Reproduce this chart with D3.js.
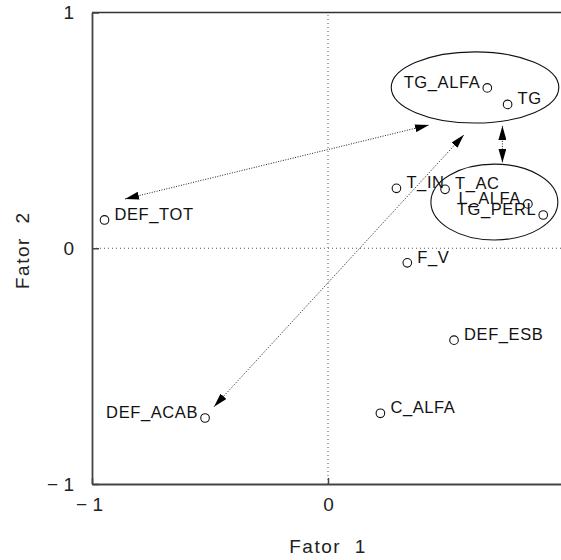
<!DOCTYPE html>
<html>
<head>
<meta charset="utf-8">
<script src="https://cdn.jsdelivr.net/npm/d3@7"></script>
<style>
  html, body { margin: 0; padding: 0; background: #fff; }
  svg { display: block; font-family: "Liberation Sans", Arial, sans-serif; }
</style>
</head>
<body>
<svg id="chart" width="561" height="560"></svg>
<script>
// Variable loadings on the first two factors
const labels = ["DEF_TOT", "DEF_ACAB", "C_ALFA", "DEF_ESB", "F_V", "T_IN", "T_AC", "L_ALFA", "TG_PERL", "TG_ALFA", "TG"];
const fator1 = [-0.947, -0.521, 0.222, 0.534, 0.336, 0.29, 0.496, 0.847, 0.912, 0.675, 0.761];
const fator2 = [0.12, -0.72, -0.70, -0.39, -0.062, 0.254, 0.25, 0.188, 0.141, 0.68, 0.61];
const labelSide = ["right", "left", "right", "right", "right", "right", "right", "left", "left", "left", "right"];

// Groups of variables outlined by ellipses
const groupCx = [0.623, 0.705];
const groupCy = [0.682, 0.196];
const groupRx = [0.355, 0.269];
const groupRy = [0.151, 0.161];

// Double-headed arrows linking groups
const arrowX1 = [-0.86, -0.483, 0.739];
const arrowY1 = [0.209, -0.672, 0.519];
const arrowX2 = [0.428, 0.576, 0.739];
const arrowY2 = [0.523, 0.481, 0.363];

const xTickValues = [-1, 0];
const yTickValues = [-1, 0, 1];
const xTitle = "Fator  1";
const yTitle = "Fator  2";

const svg = d3.select("#chart");
const x = d3.scaleLinear().domain([-1, 1]).range([92, 564]);
const y = d3.scaleLinear().domain([-1, 1]).range([484, 12.5]);

const fmt = d => d < 0 ? "\u2212 " + Math.abs(d) : String(d);

// Arrowhead marker
svg.append("defs").append("marker")
  .attr("id", "head")
  .attr("viewBox", "0 0 14 8")
  .attr("refX", 14).attr("refY", 4)
  .attr("markerWidth", 14).attr("markerHeight", 8)
  .attr("markerUnits", "userSpaceOnUse")
  .attr("orient", "auto-start-reverse")
  .append("path").attr("d", "M0,0 L14,4 L0,8 Z").attr("fill", "#000");

// Reference lines through the origin
svg.append("line")
  .attr("x1", x(-1)).attr("x2", x(1)).attr("y1", y(0)).attr("y2", y(0))
  .attr("stroke", "#555").attr("stroke-width", 1).attr("stroke-dasharray", "1,3");
svg.append("line")
  .attr("x1", x(0)).attr("x2", x(0)).attr("y1", y(-1)).attr("y2", y(1))
  .attr("stroke", "#555").attr("stroke-width", 1).attr("stroke-dasharray", "1,3");

// Frame
svg.append("line").attr("x1", x(-1)).attr("x2", x(1)).attr("y1", y(1)).attr("y2", y(1))
  .attr("stroke", "#333").attr("stroke-width", 1.5);

const xAxis = svg.append("g").attr("transform", `translate(0,${y(-1)})`)
  .call(d3.axisBottom(x).tickValues(xTickValues).tickSizeInner(-6).tickSizeOuter(0).tickPadding(14).tickFormat(fmt));
const yAxis = svg.append("g").attr("transform", `translate(${x(-1)},0)`)
  .call(d3.axisLeft(y).tickValues(yTickValues).tickSizeInner(-7).tickSizeOuter(0).tickPadding(18).tickFormat(fmt));
[xAxis, yAxis].forEach(g => {
  g.select(".domain").attr("stroke", "#444").attr("stroke-width", 1.8);
  g.selectAll(".tick line").attr("stroke", "#444").attr("stroke-width", 1.5);
  g.selectAll(".tick text").attr("font-size", 19).attr("fill", "#222")
    .attr("font-family", "Liberation Sans, Arial, sans-serif");
});
xAxis.selectAll(".tick text").filter(d => d < 0).attr("dx", -3);

// Axis titles
svg.append("text").attr("x", x(0)).attr("y", 553)
  .attr("text-anchor", "middle").attr("font-size", 19).attr("fill", "#222")
  .attr("letter-spacing", 1.5)
  .style("white-space", "pre").text(xTitle);
svg.append("text").attr("transform", `translate(29,${y(0) + 2}) rotate(-90)`)
  .attr("text-anchor", "middle").attr("font-size", 19).attr("fill", "#222")
  .attr("letter-spacing", 1.5)
  .style("white-space", "pre").text(yTitle);

// Group ellipses
svg.selectAll("ellipse.group").data(groupCx).join("ellipse")
  .attr("class", "group")
  .attr("cx", (d, i) => x(d)).attr("cy", (d, i) => y(groupCy[i]))
  .attr("rx", (d, i) => x(groupRx[i]) - x(0)).attr("ry", (d, i) => y(0) - y(groupRy[i]))
  .attr("fill", "none").attr("stroke", "#111").attr("stroke-width", 1.1);

// Arrows
svg.selectAll("line.arrow").data(arrowX1).join("line")
  .attr("class", "arrow")
  .attr("x1", d => x(d)).attr("y1", (d, i) => y(arrowY1[i]))
  .attr("x2", (d, i) => x(arrowX2[i])).attr("y2", (d, i) => y(arrowY2[i]))
  .attr("stroke", "#222").attr("stroke-width", 1).attr("stroke-dasharray", "1,1.5")
  .attr("marker-start", "url(#head)").attr("marker-end", "url(#head)");

// Points and labels
const pts = svg.selectAll("g.pt").data(labels).join("g").attr("class", "pt");
pts.append("circle")
  .attr("cx", (d, i) => x(fator1[i])).attr("cy", (d, i) => y(fator2[i]))
  .attr("r", 4.3).attr("fill", "none").attr("stroke", "#111").attr("stroke-width", 1.1);
pts.append("text")
  .attr("x", (d, i) => x(fator1[i]) + (labelSide[i] === "right" ? 10 : -7))
  .attr("y", (d, i) => y(fator2[i]))
  .attr("text-anchor", (d, i) => labelSide[i] === "right" ? "start" : "end")
  .attr("font-size", 16.5).attr("letter-spacing", 0.6).attr("fill", "#111")
  .text(d => d);
</script>
</body>
</html>
